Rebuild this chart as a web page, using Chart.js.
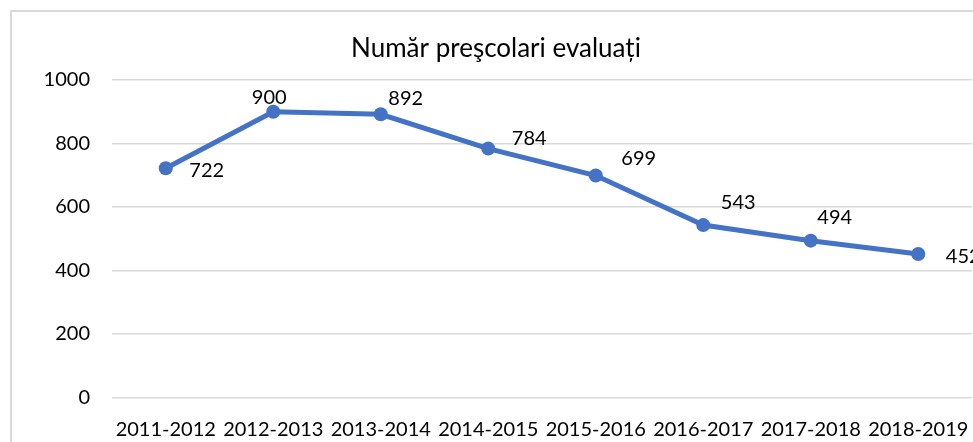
<!DOCTYPE html>
<html>
<head>
<meta charset="utf-8">
<script src="https://cdn.jsdelivr.net/npm/chart.js@4.4.1/dist/chart.umd.min.js"></script>
<style>
  html, body { margin: 0; padding: 0; background: #fff; overflow: hidden; }
  body { width: 973px; height: 442px; position: relative; }
  #frame { position: absolute; left: 10px; top: 10px; width: 1100px; height: 500px;
           border-left: 2px solid #d9d9d9; border-top: 2px solid #d9d9d9; }
  #wrap { position: absolute; left: 0; top: 0; width: 1000px; height: 470px; }
</style>
</head>
<body>
<div id="frame"></div>
<div id="wrap"><canvas id="chart"></canvas></div>
<script>
// school years and number of evaluated preschoolers
const years = ['2011-2012', '2012-2013', '2013-2014', '2014-2015', '2015-2016', '2016-2017', '2017-2018', '2018-2019'];
const evaluated = [722, 900, 892, 784, 699, 543, 494, 452];
const yTicks = [0, 200, 400, 600, 800, 1000];

// where each value label sits relative to its point (label centre)
const labelShift = [[41, 2], [-4, -14], [25, -16], [41, -10], [43, -17], [35, -23], [24, -23], [45, 3]];

const FONT = 'Lato, "Open Sans", sans-serif';

const valueLabels = {
    id: 'valueLabels',
    afterDatasetsDraw(chart) {
        const ctx = chart.ctx;
        const meta = chart.getDatasetMeta(0);
        ctx.save();
        ctx.font = '20px ' + FONT;
        ctx.fillStyle = '#000';
        ctx.textAlign = 'center';
        ctx.textBaseline = 'middle';
        meta.data.forEach((pt, i) => {
            const s = labelShift[i];
            ctx.fillText(String(evaluated[i]), pt.x + s[0], pt.y + s[1]);
        });
        ctx.restore();
    }
};

const chart = new Chart(document.getElementById('chart'), {
    type: 'line',
    data: {
        labels: years,
        datasets: [{
            label: 'Număr preşcolari evaluați',
            data: evaluated,
            borderColor: '#4472C4',
            backgroundColor: '#4472C4',
            borderWidth: 5,
            pointRadius: 7,
            pointHoverRadius: 7,
            pointBackgroundColor: '#4472C4',
            pointBorderWidth: 0,
            tension: 0,
            fill: false
        }]
    },
    options: {
        responsive: true,
        maintainAspectRatio: false,
        animation: false,
        layout: { padding: { left: 20, right: 28, top: 0, bottom: 0 } },
        plugins: {
            legend: { display: false },
            tooltip: { enabled: false },
            title: {
                display: true,
                text: 'Număr preşcolari evaluați',
                color: '#000',
                font: { family: FONT, size: 26, weight: 'normal', lineHeight: 1.2 },
                padding: { top: 33, bottom: 15.8 }
            }
        },
        scales: {
            x: {
                offset: true,
                grid: { display: false, drawTicks: false },
                border: { display: false },
                ticks: { color: '#000', padding: 20, maxRotation: 0, autoSkip: false,
                         font: { family: FONT, size: 20 } },
                afterFit(scale) { scale.height = 72.5; }
            },
            y: {
                min: 0,
                max: 1000,
                afterBuildTicks(scale) { scale.ticks = yTicks.map(v => ({ value: v })); },
                grid: { color: '#d9d9d9', lineWidth: 1.5, drawTicks: false },
                border: { display: false },
                ticks: { color: '#000', padding: 22, font: { family: FONT, size: 20 },
                         callback: v => String(v) },
                afterFit(scale) { scale.width = 92; }
            }
        }
    },
    plugins: [valueLabels]
});
</script>
</body>
</html>
